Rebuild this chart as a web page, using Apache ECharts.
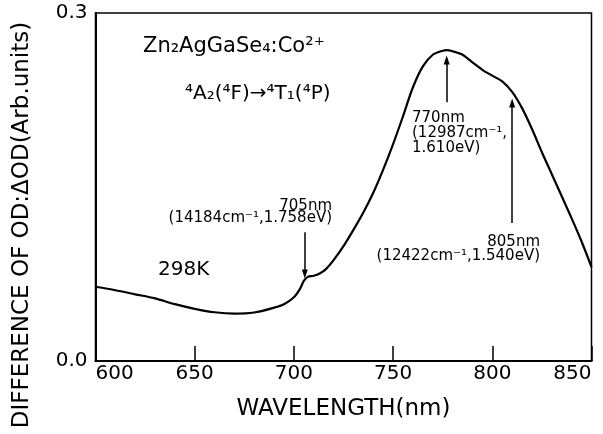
<!DOCTYPE html>
<html>
<head>
<meta charset="utf-8">
<script src="https://cdn.jsdelivr.net/npm/echarts@6/dist/echarts.min.js"></script>
<style>
html,body{margin:0;padding:0;background:#fff;}
#chart{width:603px;height:434px;}
</style>
</head>
<body>
<div id="chart"></div>
<script>
// Data
const wavelength = [600,610,620,630,640,650,660,670,680,690,695,700,703,705,707,710,713,716,720,725,730,735,740,745,750,755,760,765,770,775,777,780,785,790,795,800,805,810,815,820,825,830,835,840,845,850];
const deltaOD    = [0.064,0.061,0.0575,0.054,0.049,0.045,0.042,0.0408,0.0418,0.046,0.049,0.055,0.062,0.069,0.0725,0.0735,0.0755,0.079,0.087,0.099,0.113,0.128,0.145,0.165,0.187,0.211,0.236,0.254,0.264,0.2675,0.268,0.267,0.264,0.2575,0.251,0.246,0.241,0.232,0.218,0.200,0.180,0.161,0.142,0.123,0.103,0.081];
// arrows: [wavelength, tail value, tip value]
const arrows = [[705.5,0.111,0.075],[777,0.223,0.2595],[810,0.119,0.2224]];
const xTicks = [600,650,700,750,800,850];
const yTicks = [0.0,0.3];

const FF = '"DejaVu Sans", sans-serif';
const chart = echarts.init(document.getElementById('chart'), null, {renderer:'canvas'});
const option = {
  backgroundColor:'#fff',
  animation:false,
  grid:{left:95.5,right:11.5,top:13,bottom:73,show:true,borderColor:'#000',borderWidth:1.5,backgroundColor:'transparent'},
  xAxis:{
    type:'value',min:xTicks[0],max:xTicks[xTicks.length-1],interval:50,
    name:'WAVELENGTH(nm)',nameLocation:'middle',nameGap:37,
    nameTextStyle:{fontFamily:FF,fontSize:23,color:'#000'},
    axisLine:{lineStyle:{color:'#000',width:2}},
    axisTick:{inside:true,length:15,lineStyle:{color:'#000',width:1.5}},
    axisLabel:{fontFamily:FF,fontSize:20,color:'#000',margin:3,alignMinLabel:'left',alignMaxLabel:'right'},
    splitLine:{show:false}
  },
  yAxis:{
    type:'value',min:yTicks[0],max:yTicks[1],interval:yTicks[1]-yTicks[0],
    axisLine:{show:true,lineStyle:{color:'#000',width:2}},
    axisTick:{show:false},
    axisLabel:{fontFamily:FF,fontSize:20,color:'#000',margin:8,formatter:v=>v.toFixed(1)},
    splitLine:{show:false}
  },
  series:[{
    type:'line',
    data:wavelength.map((w,i)=>[w,deltaOD[i]]),
    showSymbol:false,smooth:0.3,
    lineStyle:{color:'#000',width:2.2},
    markLine:{
      silent:true,symbol:['none','triangle'],symbolSize:[6,9],
      label:{show:false},
      lineStyle:{color:'#000',width:1.5,type:'solid'},
      data:arrows.map(a=>[{coord:[a[0],a[1]]},{coord:[a[0],a[2]]}])
    }
  }],
  graphic:[
    {type:'text',x:22,y:225,rotation:Math.PI/2,style:{text:'DIFFERENCE OF OD:ΔOD(Arb.units)',font:'23px '+FF,fill:'#000',align:'center',verticalAlign:'middle'}},
    {type:'text',x:143,y:47,style:{text:'Zn₂AgGaSe₄:Co²⁺',font:'21px '+FF,fill:'#000',align:'left',verticalAlign:'middle'}},
    {type:'text',x:185,y:94,style:{text:'⁴A₂(⁴F)→⁴T₁(⁴P)',font:'20px '+FF,fill:'#000',align:'left',verticalAlign:'middle'}},
    {type:'text',x:158,y:270,style:{text:'298K',font:'20px '+FF,fill:'#000',align:'left',verticalAlign:'middle'}},
    {type:'text',x:332,y:212,style:{text:'705nm\n(14184cm⁻¹,1.758eV)',font:'15px '+FF,lineHeight:12,fill:'#000',align:'right',verticalAlign:'middle'}},
    {type:'text',x:412,y:133,style:{text:'770nm\n(12987cm⁻¹,\n1.610eV)',font:'15px '+FF,lineHeight:15,fill:'#000',align:'left',verticalAlign:'middle'}},
    {type:'text',x:540,y:249,style:{text:'805nm\n(12422cm⁻¹,1.540eV)',font:'15px '+FF,lineHeight:14,fill:'#000',align:'right',verticalAlign:'middle'}}
  ]
};
chart.setOption(option);
</script>
</body>
</html>
